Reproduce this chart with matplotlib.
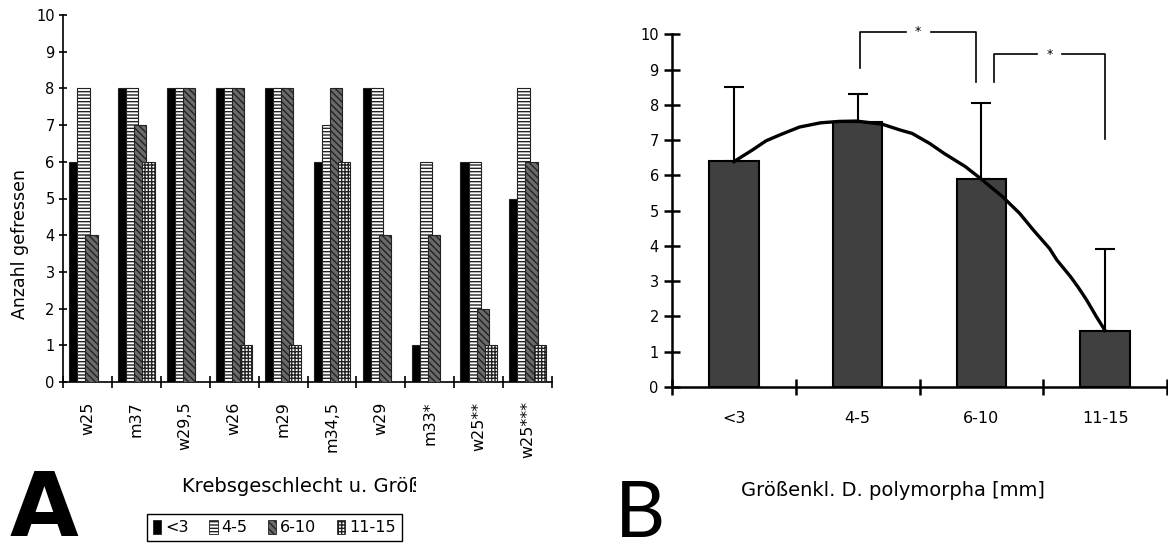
import numpy as np
import matplotlib
matplotlib.use("Agg")
import matplotlib.pyplot as plt
from matplotlib.patches import Patch
from matplotlib.transforms import Bbox, TransformedBbox, ScaledTranslation

plt.rcParams['font.family'] = ['DejaVu Sans']
plt.rcParams['hatch.linewidth'] = 1.0

# ---- panel A: prey eaten per crayfish and size class ----
crayfish = ['w25', 'm37', 'w29,5', 'w26', 'm29', 'm34,5', 'w29', 'm33*', 'w25**', 'w25***']
size_classes = ['<3', '4-5', '6-10', '11-15']
eaten_lt3 = [6, 8, 8, 8, 8, 6, 8, 1, 6, 5]
eaten_4_5 = [8, 8, 8, 8, 8, 7, 8, 6, 6, 8]
eaten_6_10 = [4, 7, 8, 8, 8, 8, 4, 4, 2, 6]
eaten_11_15 = [0, 6, 0, 1, 1, 6, 0, 0, 1, 1]

# ---- panel B: mean per size class with SD ----
mean_eaten = [6.4, 7.5, 5.9, 1.6]
sd_eaten = [2.1, 0.8, 2.15, 2.3]
# hand-drawn trend curve
curve_x = [0.0, 0.15, 0.26, 0.38, 0.53, 0.70, 0.85, 0.99, 1.20, 1.34, 1.44, 1.58, 1.70,
           1.87, 1.99, 2.17, 2.31, 2.42, 2.55, 2.61, 2.72, 2.78, 2.85, 2.93, 3.0]
curve_y = [6.39, 6.72, 6.98, 7.16, 7.37, 7.49, 7.53, 7.54, 7.45, 7.29, 7.19, 6.91, 6.62,
           6.25, 5.92, 5.40, 4.92, 4.45, 3.93, 3.60, 3.13, 2.84, 2.47, 1.99, 1.60]
# significance brackets: (x left, x right, y left foot, y top, y right foot)
brackets = [(1.02, 1.96, 9.04, 10.07, 8.66),
            (2.10, 3.00, 8.66, 9.44, 7.02)]

fig = plt.figure(figsize=(11.68, 5.49), dpi=100)
renderer = fig.canvas.get_renderer()

# ================= A =================
axA = fig.add_axes([63 / 1168, 1 - 382 / 549, 489 / 1168, 367 / 549])
styles = [dict(facecolor='black', hatch=None),
          dict(facecolor='white', hatch='-----'),
          dict(facecolor='#6a6a6a', hatch='\\\\\\\\\\'),
          dict(facecolor='white', hatch='+++++')]
series = [eaten_lt3, eaten_4_5, eaten_6_10, eaten_11_15]
x = np.arange(len(crayfish)) + 0.5
step, width = 0.165, 0.25
for i, (vals, st) in enumerate(zip(series, styles)):
    axA.bar(x + (i - 1.5) * step, vals, width, facecolor=st['facecolor'],
            hatch=st['hatch'], edgecolor='#222222', linewidth=0.8, zorder=2 + i)

axA.set_xlim(0, len(crayfish))
axA.set_ylim(0, 10)
axA.set_yticks(range(0, 11))
axA.set_xticks(range(0, len(crayfish) + 1))
axA.set_xticklabels([])
axA.set_xticks(x, minor=True)
axA.set_xticklabels(crayfish, minor=True, rotation=90, fontsize=11.5, va='top')
for lab in axA.get_xticklabels(minor=True):
    lab.set_transform(lab.get_transform() + ScaledTranslation(0.07, 0, fig.dpi_scale_trans))
axA.tick_params(axis='x', which='minor', length=0, pad=14)
axA.tick_params(axis='x', which='major', direction='inout', length=9, width=1.2)
axA.tick_params(axis='y', direction='inout', length=6, width=1.2, labelsize=10.5, pad=3)
for s in ['top', 'right']:
    axA.spines[s].set_visible(False)
for s in ['left', 'bottom']:
    axA.spines[s].set_linewidth(1.2)

fig.text(20 / 1168, 1 - 244 / 549, 'Anzahl gefressen', rotation=90,
         ha='center', va='center', fontsize=12.5)

# x label of A is cut off in the middle of the "ß" in the original
xlab_x = 182
xl = fig.text(xlab_x / 1168, 1 - 487 / 549, 'Krebsgeschlecht u. Größe',
              ha='left', va='center', fontsize=14)
w_a = fig.text(0, 0, 'Krebsgeschlecht u. Grö', fontsize=14).get_window_extent(renderer).width
w_b = fig.text(0, 0, 'Krebsgeschlecht u. Größ', fontsize=14).get_window_extent(renderer).width
for t in fig.texts[-2:]:
    t.remove()
cut = xlab_x + (w_a + w_b) / 2 + 1
xl.set_clip_box(TransformedBbox(Bbox([[0, 0], [cut / 1168, 1]]), fig.transFigure))
xl.set_clip_on(True)

handles = [Patch(facecolor=st['facecolor'], hatch=st['hatch'], edgecolor='#222222',
                 linewidth=0.6) for st in styles]
leg = fig.legend(handles, size_classes, ncol=4, loc='upper left',
                 bbox_to_anchor=(147 / 1168, 1 - 514 / 549), fontsize=11.5,
                 frameon=True, fancybox=False, edgecolor='black', framealpha=1,
                 handlelength=0.55, handleheight=1.0, handletextpad=0.25,
                 columnspacing=1.25, borderpad=0.35, borderaxespad=0)
leg.get_frame().set_linewidth(1.0)

fig.text(10 / 1168, 1 - 536 / 549, 'A', fontsize=64, fontweight='bold',
         ha='left', va='baseline')

# ================= B =================
axB = fig.add_axes([672 / 1168, 1 - 387 / 549, 495 / 1168, (387 - 34.3) / 549])
xb = np.arange(len(size_classes))
axB.bar(xb, mean_eaten, 0.4, color='#404040', edgecolor='black', linewidth=1.5, zorder=2)
axB.errorbar(xb, mean_eaten, yerr=[np.zeros(len(xb)), sd_eaten], fmt='none',
             ecolor='black', elinewidth=1.5, capsize=7, capthick=1.5, zorder=3)
axB.plot(curve_x, curve_y, color='black', linewidth=2.4, zorder=4)

for xl0, xr0, yl0, yt, yr0 in brackets:
    mid = (xl0 + xr0) / 2
    kw = dict(color='black', linewidth=1.2, clip_on=False)
    axB.plot([xl0, xl0, mid - 0.1], [yl0, yt, yt], **kw)
    axB.plot([mid + 0.1, xr0, xr0], [yt, yt, yr0], **kw)
    axB.text(mid, yt, '*', ha='center', va='center', fontsize=9, clip_on=False)

axB.set_xlim(-0.5, 3.5)
axB.set_ylim(0, 10)
axB.set_yticks(range(0, 11))
axB.set_xticks(np.arange(-0.5, 4, 1))
axB.set_xticklabels([])
axB.set_xticks(xb, minor=True)
axB.set_xticklabels(size_classes, minor=True, fontsize=11.5)
axB.tick_params(axis='x', which='minor', length=0, pad=17)
axB.tick_params(axis='x', which='major', direction='inout', length=11, width=1.8)
axB.tick_params(axis='y', direction='inout', length=11, width=1.8, labelsize=10.5, pad=4)
for s in ['top', 'right']:
    axB.spines[s].set_visible(False)
for s in ['left', 'bottom']:
    axB.spines[s].set_linewidth(1.8)

fig.text(893 / 1168, 1 - 491 / 549, 'Größenkl. D. polymorpha [mm]',
         ha='center', va='center', fontsize=14)
fig.text(615 / 1168, 1 - 537 / 549, 'B', fontsize=56, family=['Lato', 'DejaVu Sans'],
         fontweight='normal', ha='left', va='baseline')

fig.savefig('out.png', dpi=100)
